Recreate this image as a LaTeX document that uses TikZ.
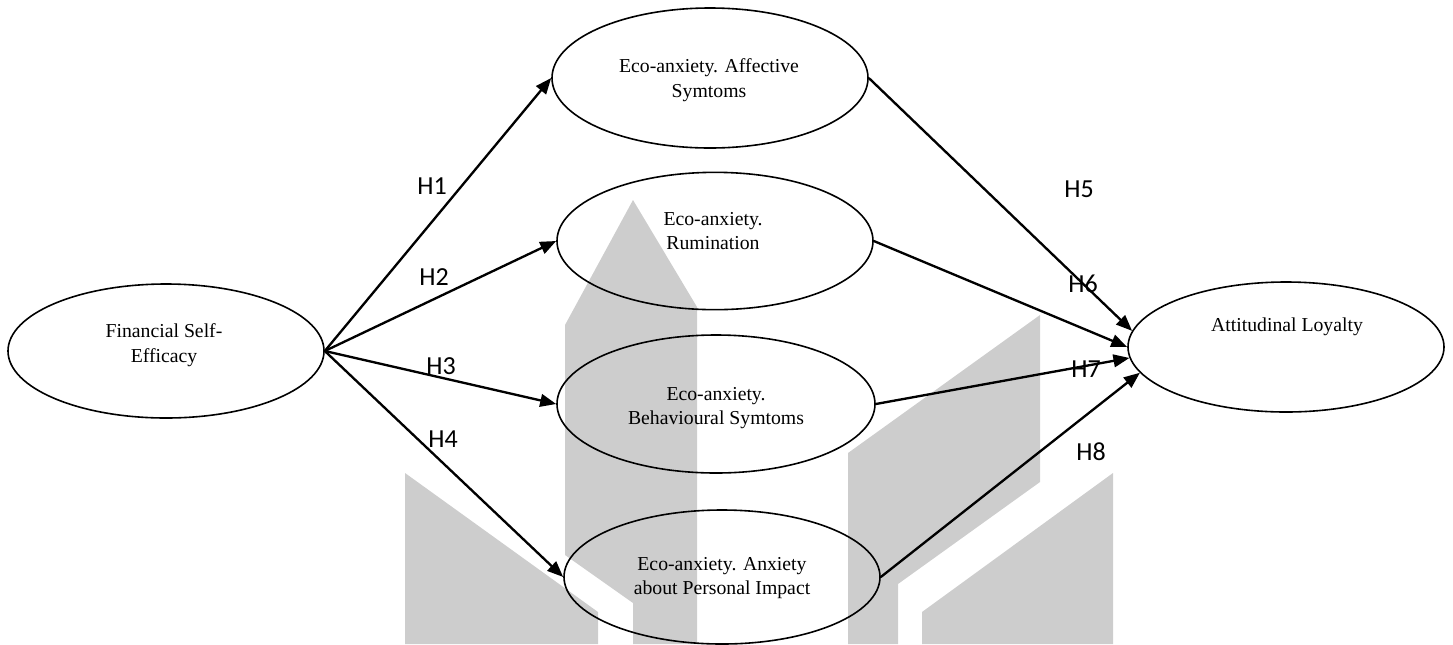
\documentclass[tikz,border=0pt]{standalone}
\usepackage{fontspec}
\setmainfont{Liberation Serif}
\newfontfamily\labelfont{Carlito}
\usetikzlibrary{arrows.meta,shapes.geometric}
\definecolor{wm}{RGB}{205,205,205}
\begin{document}
\begin{tikzpicture}[x=0.75pt,y=-0.75pt,
  latent/.style={draw,ellipse,line width=1.2pt,minimum width=237pt,inner sep=0pt},
  nodetext/.style={align=center,inner sep=0pt,font=\fontsize{14.8}{18.5}\selectfont},
  hyp/.style={line width=1.75pt,-{Triangle[length=12pt,width=9.5pt]}},
  hlabel/.style={font=\labelfont\fontsize{19.5}{22}\selectfont,inner sep=0pt}]
\useasboundingbox (0,0) rectangle (1453,644);
% watermark
\fill[wm] (565,325) -- (633,200) -- (697,307) -- (697,644) -- (633,644) -- (633,603) -- (565,555) -- cycle;
\fill[wm] (405,473) -- (598,612) -- (598,644) -- (405,644) -- cycle;
\fill[wm] (848,453) -- (1040,315) -- (1040,482) -- (898,584) -- (898,644) -- (848,644) -- cycle;
\fill[wm] (922,612) -- (1113,473) -- (1113,644) -- (922,644) -- cycle;
% ellipses
\node[latent,minimum height=100.5pt] (fse) at (166,351) {};
\node[latent,minimum height=105pt] (aff) at (710,78) {};
\node[latent,minimum height=103pt] (rum) at (715,241) {};
\node[latent,minimum height=103.5pt,minimum width=238.5pt] (beh) at (716,404) {};
\node[latent,minimum height=100.5pt] (anx) at (722,577) {};
\node[latent,minimum height=97.5pt] (att) at (1286,347) {};
% texts
\node[nodetext] (fset) at (164,345) {Financial Self-\\Efficacy};
\node[nodetext] (afft) at (709,80) {Eco-anxiety. Affective\\Symtoms};
\node[nodetext] (rumt) at (713,231) {Eco-anxiety.\\Rumination};
\node[nodetext] (beht) at (716,408) {Eco-anxiety.\\Behavioural Symtoms};
\node[nodetext] (anxt) at (722,578) {Eco-anxiety. Anxiety\\about Personal Impact};
\node[nodetext] (attt) at (1287,327) {Attitudinal Loyalty};
% paths
\draw[hyp] (fse.east) -- (aff.west);
\draw[hyp] (fse.east) -- (rum.west);
\draw[hyp] (fse.east) -- (beh.west);
\draw[hyp] (fse.east) -- (anx.west);
\draw[hyp] (aff.east) -- (att.174);
\draw[hyp] (rum.east) -- (att.180);
\draw[hyp] (beh.east) -- (att.184);
\draw[hyp] (anx.east) -- (att.190);
% labels
\node[hlabel] (h1) at (432,186) {H1};
\node[hlabel] (h2) at (434,277) {H2};
\node[hlabel] (h3) at (441,366) {H3};
\node[hlabel] (h4) at (443,439) {H4};
\node[hlabel] (h5) at (1079,189) {H5};
\node[hlabel] (h6) at (1083,284) {H6};
\node[hlabel] (h7) at (1086,369) {H7};
\node[hlabel] (h8) at (1091,452) {H8};
\end{tikzpicture}
\end{document}
